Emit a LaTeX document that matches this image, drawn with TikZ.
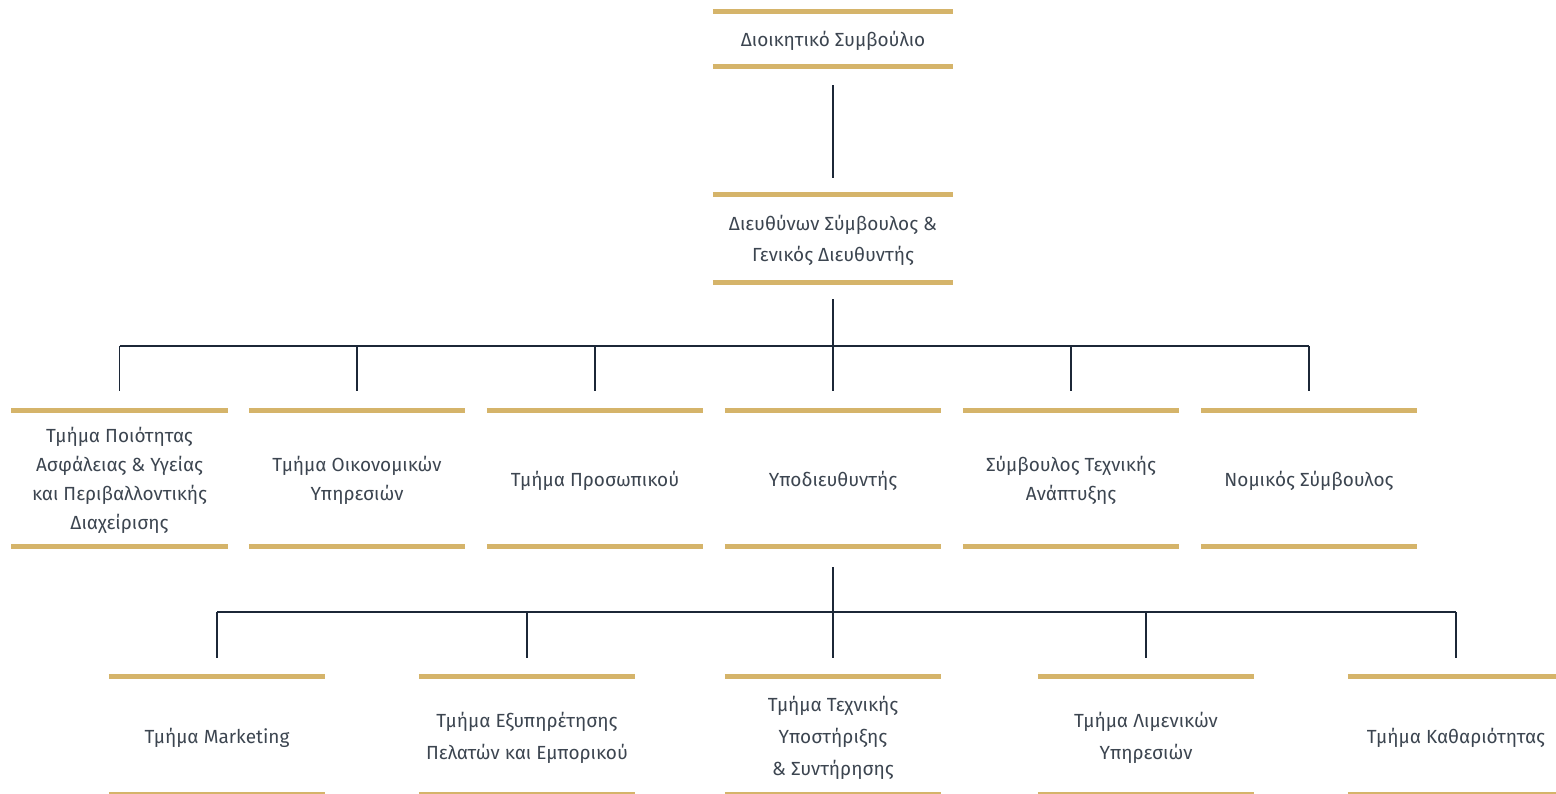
\documentclass[tikz,border=0pt]{standalone}
\usepackage{fontspec}
\setmainfont{Fira Sans}
\definecolor{gold}{HTML}{D5B46A}
\definecolor{txt}{HTML}{3C4550}
\definecolor{navy}{HTML}{1C2737}
\begin{document}
\begin{tikzpicture}[x=1pt,y=-1pt,
  box/.style={inner sep=0pt, minimum width=#1, align=center, text=txt,
    font=\fontsize{19}{29}\selectfont},
  box/.default=216pt,
  bar/.style={gold, line width=5pt},
  conn/.style={navy, line width=1.5pt}]
\useasboundingbox (0,0) rectangle (1556,793);
% level 0/1
\node[box=240pt, minimum height=54pt] (board) at (833,41) {Διοικητικό Συμβούλιο};
\node[box=240pt, minimum height=87pt, font=\fontsize{19}{31}\selectfont] (ceo) at (833,240.5) {Διευθύνων Σύμβουλος \&\\Γενικός Διευθυντής};
% level 2
\node[box, minimum height=135pt] (q) at (119.5,480.5) {Τμήμα Ποιότητας\\Ασφάλειας \& Υγείας\\και Περιβαλλοντικής\\Διαχείρισης};
\node[box, minimum height=135pt] (fin) at (357,480.5) {Τμήμα Οικονομικών\\Υπηρεσιών};
\node[box, minimum height=135pt] (hr) at (595,480.5) {Τμήμα Προσωπικού};
\node[box, minimum height=135pt] (dep) at (833,480.5) {Υποδιευθυντής};
\node[box, minimum height=135pt] (tech) at (1071,480.5) {Σύμβουλος Τεχνικής\\Ανάπτυξης};
\node[box, minimum height=135pt] (law) at (1309,480.5) {Νομικός Σύμβουλος};
% level 3
\tikzset{r3/.style={box, minimum height=117.5pt, font=\fontsize{19}{32}\selectfont}}
\node[r3] (mkt) at (217,737.75) {Τμήμα Marketing};
\node[r3] (cust) at (527,737.75) {Τμήμα Εξυπηρέτησης\\Πελατών και Εμπορικού};
\node[r3] (sup) at (833,737.75) {Τμήμα Τεχνικής\\Υποστήριξης\\\& Συντήρησης};
\node[r3] (port) at (1146,737.75) {Τμήμα Λιμενικών\\Υπηρεσιών};
\node[r3] (clean) at (1456,737.75) {Τμήμα Καθαριότητας};
% bars
\foreach \n in {board,ceo,q,fin,hr,dep,tech,law,mkt,cust,sup,port,clean}{
  \draw[bar] ([yshift=2pt]\n.north west) -- ([yshift=2pt]\n.north east);
  \draw[bar] ([yshift=2pt]\n.south west) -- ([yshift=2pt]\n.south east);
}
% connectors
\draw[conn] ([yshift=-17pt]board.south) -- ([yshift=19pt]ceo.north);
\coordinate (bus1) at (833,346);
\draw[conn] ([yshift=-15pt]ceo.south) -- (bus1);
\draw[conn] (bus1 -| q.north) -- (bus1 -| law.north);
\foreach \n in {q,fin,hr,dep,tech,law}{
  \draw[conn] (bus1 -| \n.north) -- ([yshift=22pt]\n.north);
}
\coordinate (bus2) at (833,612);
\draw[conn] ([yshift=-19pt]dep.south) -- (bus2);
\draw[conn] (bus2 -| mkt.north) -- (bus2 -| clean.north);
\foreach \n in {mkt,cust,sup,port,clean}{
  \draw[conn] (bus2 -| \n.north) -- ([yshift=21pt]\n.north);
}
\end{tikzpicture}
\end{document}
